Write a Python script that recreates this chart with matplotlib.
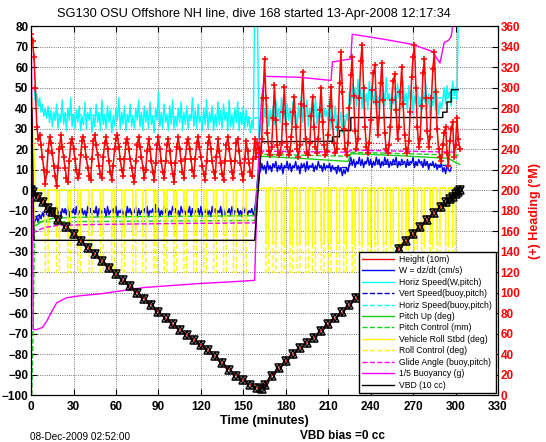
import matplotlib
matplotlib.use('Agg')
import matplotlib.pyplot as plt
import numpy as np

plt.rcParams['font.family'] = ['Liberation Sans', 'DejaVu Sans']

# ---- data (left axis units unless noted) ----

# depth / 10 (red line "Height (10m)" with black markers)
depth_t = [0, 1.5, 5, 8.5, 12, 15, 19, 25, 30, 35, 40, 45, 50, 55, 60, 65, 70, 75, 80, 85,
           90, 95, 100, 105, 110, 115, 120, 125, 130, 135, 140, 145, 150, 155, 160, 163,
           165, 170, 175, 180, 185, 190, 195, 200, 205, 210, 215, 220, 225, 230, 235, 240,
           245, 250, 255, 260, 265, 270, 275, 280, 285, 290, 293, 296, 298, 300, 302, 303]
depth_v = [0, -1, -3.4, -5.9, -8.8, -10.8, -14.7, -18, -21.3, -24.6, -28, -31.2, -34.5, -37.8,
           -41, -44, -47, -50, -53, -56, -59.5, -62.5, -65.5, -68, -70.5, -73, -75.5, -78,
           -81, -84.5, -87.5, -90.5, -92.7, -95, -96.5, -96.8,
           -95, -90.5, -87, -83.5, -80, -77, -74.5, -72, -68.5, -65.5, -62.5, -59.5, -56,
           -52.5, -48.5, -44.5, -40.5, -36.5, -32.5, -28.5, -25, -21.5, -18, -14.5, -11,
           -8, -6, -4.5, -3.2, -2, -0.8, 0]

# vertical speed W (cm/s), one value per minute from t=3
w_start = 3
w_vals = [-15, -13, -16, -12, -14, -11, -13, -10, -12, -9,
          -12, -10, -13, -9, -11, -8, -12, -10, -13, -9,
          -11, -9, -12, -8, -13, -10, -11, -9, -12, -8,
          -13, -10, -11, -9, -12, -10, -13, -8, -11, -9,
          -12, -10, -11, -8, -13, -9, -12, -10, -11, -9,
          -13, -8, -12, -10, -11, -9, -12, -8, -13, -10,
          -11, -9, -12, -10, -13, -8, -11, -9, -12, -10,
          -11, -8, -13, -9, -12, -10, -11, -9, -12, -8,
          -13, -10, -11, -9, -12, -7, -11, -9, -13, -10,
          -12, -8, -11, -9, -13, -10, -12, -8, -11, -9,
          -12, -10, -13, -8, -11, -9, -12, -10, -11, -8,
          -13, -9, -12, -10, -11, -9, -12, -8, -13, -10,
          -11, -9, -12, -10, -13, -8, -11, -9, -12, -10,
          -11, -8, -13, -9, -12, -10, -11, -9, -12, -8,
          -13, -10, -11, -9, -12, -10, -13, -8, -11, -9,
          -12, -10, -11, -9, -12,
          -10, -4, 5, 11,
          9, 13, 10, 12, 8, 14, 10, 12, 9, 13,
          11, 14, 9, 12, 10, 13, 8, 12, 11, 14,
          10, 13, 9, 12, 11, 14, 10, 12, 8, 13,
          11, 13, 9, 14, 10, 12, 11, 13, 9, 12,
          10, 14, 11, 12, 9, 13, 10, 12, 11, 13,
          9, 12, 10, 11, 8, 12, 9, 11, 7, 10,
          8, 11, 9,
          13, 16, 12, 15, 11, 14, 13, 16, 12, 15,
          11, 14, 13, 16, 12, 15, 11, 14, 12, 16,
          13, 15, 11, 14, 12, 16, 13, 15, 11, 14,
          12, 15, 13, 16, 11, 14, 12, 15, 13, 14,
          11, 15, 12, 14, 13, 16, 11, 14, 12, 15,
          13, 14, 11, 15, 12, 14, 10, 13, 12, 14,
          11, 13, 10, 12, 11, 13,
          9, 11, 8, 12, 10, 9, 11]

# horizontal speed from W and pitch, one value per minute from t=2
hs_start = 2
hs_vals = [50, 44, 47, 41, 45, 38, 42, 36, 40, 35,
           41, 33, 39, 31, 38, 34, 42, 30, 37, 33,
           44, 32, 38, 29, 40, 34, 45, 31, 37, 30,
           39, 33, 41, 29, 36, 32, 43, 30, 38, 34,
           40, 28, 36, 31, 42, 33, 38, 29, 44, 32,
           37, 30, 41, 33, 39, 28, 36, 31, 40, 34,
           45, 30, 38, 32, 41, 29, 37, 33, 42, 31,
           36, 30, 40, 34, 44, 31, 38, 29, 41, 33,
           39, 30, 43, 32, 36, 28, 40, 34, 48, 31,
           38, 30, 42, 33, 37, 29, 41, 32, 44, 30,
           36, 31, 40, 33, 43, 29, 38, 32, 41, 30,
           37, 34, 45, 31, 39, 30, 42, 33, 36, 29,
           40, 32, 44, 30, 38, 33, 41, 29, 37, 31,
           43, 32, 39, 30, 42, 34, 38, 29, 44, 31,
           37, 30, 40, 33, 43, 29, 38, 32, 41, 30,
           39, 31, 36, 28, 34, 30,
           85, 90, 85, 25,
           30, 38, 33, 40, 35, 42, 31, 39, 34, 41,
           32, 44, 36, 40, 33, 45, 35, 39, 31, 42,
           34, 40, 32, 43, 36, 38, 30, 41, 35, 46,
           33, 39, 36, 44, 31, 40, 34, 42, 37, 45,
           32, 38, 35, 43, 31, 40, 36, 39, 33, 44,
           30, 37, 33, 41, 29, 36, 32, 38, 28, 35,
           31, 37, 34,
           48, 42, 52, 44, 50, 41, 54, 45, 49, 40,
           51, 43, 47, 39, 53, 44, 50, 42, 48, 38,
           46, 40, 52, 43, 49, 41, 55, 44, 47, 39,
           50, 42, 46, 38, 52, 45, 48, 40, 53, 43,
           47, 39, 51, 44, 49, 37, 46, 42, 50, 41,
           45, 38, 48, 43, 52, 40, 47, 36, 44, 41,
           49, 39, 46, 37, 43, 40,
           44, 50, 42, 51, 45, 48, 41, 53, 46, 50, 44,
           85, 85]

# model speeds (buoyancy, pitch)
vsb_t = [3, 10, 158, 162, 224, 226, 297]
vsb_v = [-13, -11, -10.5, 11, 11, 13, 12]
hsb_t = [2, 10, 158, 163, 224, 226, 301]
hsb_v = [45, 37, 35, 36, 36, 45, 45]

# pitch (deg) and pitch control (mm)
pitch_t = [1, 4, 8, 15, 30, 60, 100, 158, 162, 190, 224, 226, 260, 295, 300, 303]
pitch_v = [-18, -17, -15.2, -13.8, -13.3, -13, -12.8, -12.5, 16.5, 15.5, 14, 17.8, 16.8,
           15.5, 13.5, 12.5]
pctl_t = [0.5, 1.5, 2.5, 158, 162, 224, 226, 303]
pctl_v = [-100, -64, -15.5, -14.8, 17.5, 16.5, 18.5, 17]

# roll (deg): roll-to-turn episodes (start, end) in minutes
roll_on = [10, 18, 26, 33, 41, 49, 57, 64, 72, 79, 87, 94, 101, 108, 115, 122, 129, 136,
           143, 150, 166, 171, 177, 183, 188, 194, 199, 205, 210, 216, 221, 227, 232, 238,
           243, 249, 254, 260, 265, 271, 276, 282, 287, 293, 298]
roll_off = [12, 20, 28, 35, 43, 51, 59, 66, 74, 81, 89, 96, 103, 110, 117, 124, 131, 138,
            145, 152, 168, 173, 179, 185, 190, 196, 201, 207, 212, 218, 223, 229, 234, 240,
            245, 251, 256, 262, 267, 273, 278, 284, 289, 295, 300]
roll_level = [0] * 20 + [1] * 25
roll_turned = [-22] * 20 + [-26] * 25
rctl_turned = [-40] * 45

# glide angle (buoy, pitch)
glide_t = [1, 5, 10, 18, 40, 100, 158, 162, 224, 226, 301]
glide_v = [-21, -19.5, -18.2, -17.3, -16.8, -16.3, -16, 19, 18.5, 19.5, 18.5]

# 1/5 buoyancy (g)
buoy_t = [0, 0.5, 1.5, 4, 8, 11, 14, 18, 25, 35, 50, 65, 80, 100, 120, 140, 158, 159,
          161.5, 163, 165, 190, 212, 213, 226, 227, 250, 270, 284, 287, 289, 292, 295,
          297, 299]
buoy_v = [85, 40, -68, -68, -67, -64, -60, -55, -52.5, -51.5, -50.5, -49, -47.5, -46.5,
          -45.5, -44.8, -44, -20, 29, 45, 55.5, 55, 53.5, 62.5, 64, 76, 73.5, 71, 67.5, 64,
          62, 72, 73, 75, 85]

# VBD (10 cc)
vbd_t = [0.5, 2, 158, 163, 213, 213, 218, 218, 226, 226, 291, 291, 294, 294, 297, 297, 302]
vbd_v = [40, -24.5, -24.5, 23.6, 23.8, 26, 26, 29, 29, 35.4, 35.4, 38, 38, 43, 43, 49, 49]

# heading (deg M, right axis), one value per minute from t=0
hdg_vals = [352, 345, 330, 300, 262, 250, 254, 244, 232, 220,
            206, 218, 238, 252, 246, 236, 224, 214, 204, 222,
            240, 254, 242, 232, 222, 212, 208, 228, 246, 250,
            240, 230, 220, 212, 216, 234, 248, 252, 242, 232,
            222, 214, 210, 230, 248, 254, 244, 234, 224, 216,
            212, 232, 246, 252, 240, 228, 218, 210, 224, 240,
            250, 254, 242, 230, 220, 214, 230, 246, 250, 240,
            230, 222, 214, 208, 228, 244, 252, 242, 232, 222,
            212, 220, 238, 250, 240, 228, 218, 210, 226, 244,
            252, 240, 228, 218, 212, 228, 244, 250, 238, 226,
            216, 208, 226, 242, 252, 240, 228, 218, 212, 230,
            246, 250, 240, 230, 220, 214, 230, 246, 252, 242,
            232, 224, 216, 210, 228, 246, 252, 240, 228, 218,
            212, 232, 250, 238, 226, 216, 210, 228, 244, 252,
            240, 228, 218, 212, 228, 246, 250, 238, 226, 216,
            210, 230, 248, 238, 226, 218, 214, 230,
            250, 232, 246, 240,
            236, 250, 290, 328, 290, 256, 238, 234, 242, 270,
            303, 268, 244, 234, 236, 246, 276, 301, 264, 242,
            234, 238, 252, 276, 291, 262, 240, 232, 244, 284,
            315, 282, 250, 236, 234, 246, 272, 291, 262, 242,
            236, 250, 278, 300, 266, 244, 234, 238, 254, 282,
            301, 268, 246, 236, 240, 262, 304, 335, 296, 260,
            240, 234, 246, 280, 312, 330, 292, 258, 240, 250,
            290, 326, 342, 300, 262, 242, 236, 246, 268, 298,
            314, 322, 286, 254, 270, 304, 324, 288, 256, 240,
            236, 244, 262, 288, 306, 313, 278, 250, 262, 296,
            320, 284, 254, 240, 236, 248, 276, 310, 330, 342,
            300, 262, 242, 250, 282, 314, 328, 290, 258, 242,
            252, 290, 318, 335, 296, 260, 240, 232, 228, 244,
            256, 262, 236, 224, 248, 260, 266, 232, 244, 270, 250, 240]
hdg_target = 246

title = 'SG130 OSU Offshore NH line, dive 168 started 13-Apr-2008 12:17:34'


def steps(on, off, level, turned):
    t, v = [], []
    for a, b, lv, tv in zip(on, off, level, turned):
        t += [a, a, b, b]
        v += [lv, tv, tv, lv]
    return t, v


fig = plt.figure(figsize=(5.46, 4.42), dpi=100)
ax = fig.add_axes([0.057, 0.106, 0.855, 0.835])
ax2 = ax.twinx()

w_t = np.arange(w_start, w_start + len(w_vals))
hs_t = np.arange(hs_start, hs_start + len(hs_vals))
hdg_t = np.arange(len(hdg_vals))

roll_t, roll_v = steps(roll_on, roll_off, roll_level, roll_turned)
roll_t = [0, 1, 2, 3] + roll_t + [303]
roll_v = [0, 45, 20, 0] + roll_v + [0]
rctl_t, rctl_v = steps(roll_on, roll_off, roll_level, rctl_turned)
rctl_t = [0.5, 1.5, 3] + rctl_t + [303]
rctl_v = [40, -25, 0] + rctl_v + [0]

handles = []
handles += ax.plot(depth_t, depth_v, color='red', lw=1, label='Height (10m)', zorder=5)
handles += ax.plot(w_t, w_vals, color='blue', lw=1, label='W = dz/dt (cm/s)')
handles += ax.plot(hs_t, hs_vals, color='cyan', lw=1, label='Horiz Speed(W,pitch)')
handles += ax.plot(vsb_t, vsb_v, color=(0, 0, 0.75), lw=1, ls='--',
                   label='Vert Speed(buoy,pitch)')
handles += ax.plot(hsb_t, hsb_v, color='cyan', lw=1, ls='--',
                   label='Horiz Speed(buoy,pitch)')
handles += ax.plot(pitch_t, pitch_v, color=(0.1, 0.8, 0.1), lw=1, label='Pitch Up (deg)')
handles += ax.plot(pctl_t, pctl_v, color=(0.1, 0.8, 0.1), lw=1, ls='--',
                   label='Pitch Control (mm)')
handles += ax.plot(roll_t, roll_v, color='yellow', lw=1, label='Vehicle Roll Stbd (deg)')
handles += ax.plot(rctl_t, rctl_v, color='yellow', lw=1, ls='--', label='Roll Control (deg)')
handles += ax.plot(glide_t, glide_v, color='magenta', lw=1, ls='--',
                   label='Glide Angle (buoy,pitch)')
handles += ax.plot(buoy_t, buoy_v, color='magenta', lw=1, label='1/5 Buoyancy (g)')
handles += ax.plot(vbd_t, vbd_v, color='black', lw=1, label='VBD (10 cc)')

# depth markers
ax.plot(depth_t, depth_v, ls='none', marker='^', ms=6, mfc='none', mec='black', mew=1.1,
        zorder=6)
ax.plot(depth_t, depth_v, ls='none', marker='v', ms=6, mfc='none', mec='black', mew=1.1,
        zorder=6)

ax.set_xlim(0, 330)
ax.set_ylim(-100, 80)
ax.set_xticks(np.arange(0, 331, 30))
ax.set_yticks(np.arange(-100, 81, 10))
ax.grid(True, ls=':', color='0.3', lw=0.6)
ax.tick_params(direction='in', top=True, length=4, width=0.8, labelsize=8.5, pad=2)
ax.tick_params(axis='x', pad=4)
ax.tick_params(axis='y', right=False)
plt.setp(ax.get_xticklabels(), fontweight='bold')
plt.setp(ax.get_yticklabels(), fontweight='bold')
ax.set_xlabel('Time (minutes)', fontsize=9, fontweight='bold', labelpad=2)

# heading on right axis
ax2.plot(hdg_t, hdg_vals, color='red', lw=1.1, marker='+', ms=5, mew=1.1)
ax2.plot([0, 303], [hdg_target, hdg_target], color='red', lw=0.8, ls=':')
ax2.set_ylim(0, 360)
ax2.set_yticks(np.arange(0, 361, 20))
ax2.tick_params(direction='in', length=4, width=0.8, labelsize=8.5, labelcolor='red', pad=2)
plt.setp(ax2.get_yticklabels(), fontweight='bold')
ax2.set_ylabel('(+) Heading (°M)', color='red', fontsize=9, fontweight='bold', labelpad=6)

leg = ax2.legend(handles=handles, loc='lower right', fontsize=6.2, handlelength=3.7,
                 handletextpad=0.6, labelspacing=0.28, borderpad=0.4, borderaxespad=0.25,
                 fancybox=False, framealpha=1, edgecolor='black')
leg.get_frame().set_linewidth(1)

fig.text(0.465, 0.968, title, ha='center', va='center', fontsize=9.2)
fig.text(0.055, 0.011, '08-Dec-2009 02:52:00', ha='left', va='center', fontsize=7.2)
fig.text(0.55, 0.013, 'VBD bias =0 cc', ha='left', va='center', fontsize=8.5,
         fontweight='bold')

fig.savefig('out.png', dpi=100)
